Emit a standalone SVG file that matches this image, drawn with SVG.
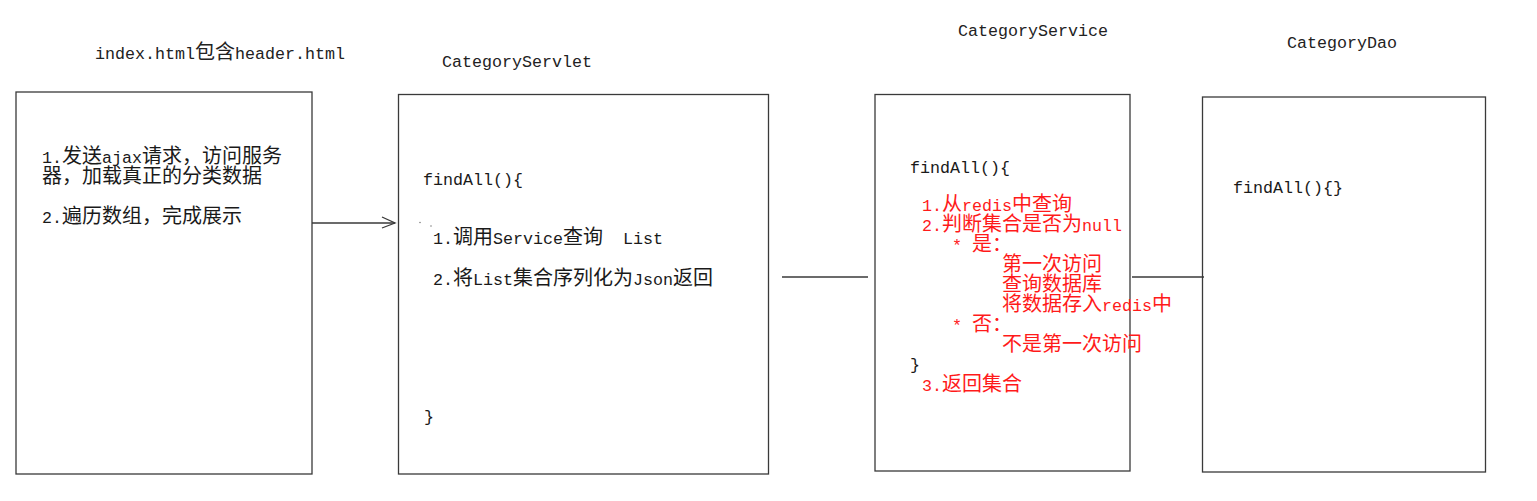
<svg xmlns="http://www.w3.org/2000/svg" width="1537" height="501" viewBox="0 0 1537 501">
<style>
  .box { fill: #ffffff; stroke: #3a3a3a; stroke-width: 1.3; }
  .conn { fill: none; stroke: #3a3a3a; stroke-width: 1.3; }
  text { font-family: "Noto Sans CJK SC", "Liberation Sans", sans-serif; font-size: 20px; fill: #1a1a1a; }
  .m { font-family: "Liberation Mono", "Noto Sans CJK SC", monospace; font-size: 16.67px; }
  .h { font-family: "Liberation Mono", "Noto Sans CJK SC", monospace; font-size: 16.67px; fill: #222222; }
  .red { fill: #ff1a1a; }
</style>
<defs>
  <marker id="open" markerUnits="userSpaceOnUse" markerWidth="16" markerHeight="14" refX="14" refY="7" orient="auto">
    <path d="M1,1 L14,7 L1,12" fill="none" stroke="#3a3a3a" stroke-width="1.3"/>
  </marker>
</defs>
<rect width="1537" height="501" fill="#ffffff"/>

<g id="node-index">
  <text class="h" y="59"><tspan x="95">index.html</tspan><tspan x="195" style="font-family:'Noto Sans CJK SC',sans-serif;font-size:20px">包含</tspan><tspan x="235">header.html</tspan></text>
  <rect class="box" x="16" y="92" width="296" height="382"/>
  <text y="163"><tspan x="42" class="m">1.</tspan><tspan x="62">发送</tspan><tspan x="102" class="m">ajax</tspan><tspan x="142">请求，访问服务</tspan></text>
  <text x="42" y="183">器，加载真正的分类数据</text>
  <text y="223"><tspan x="42" class="m">2.</tspan><tspan x="62">遍历数组，完成展示</tspan></text>
</g>

<g id="node-servlet">
  <text class="h" x="442" y="67">CategoryServlet</text>
  <rect class="box" x="398.5" y="94.5" width="370" height="379.5"/>
  <text class="m" x="423" y="185">findAll(){</text>
  <circle cx="420" cy="222.5" r="0.7" fill="#666"/>
  <circle cx="431" cy="226" r="0.7" fill="#666"/>
  <text y="244"><tspan x="433" class="m">1.</tspan><tspan x="453">调用</tspan><tspan x="493" class="m">Service</tspan><tspan x="563">查询</tspan><tspan x="623" class="m">List</tspan></text>
  <text y="285"><tspan x="433" class="m">2.</tspan><tspan x="453">将</tspan><tspan x="473" class="m">List</tspan><tspan x="513">集合序列化为</tspan><tspan x="633" class="m">Json</tspan><tspan x="673">返回</tspan></text>
  <text class="m" x="424" y="422">}</text>
</g>

<g id="node-service">
  <text class="h" x="958" y="36">CategoryService</text>
  <rect class="box" x="875" y="94.5" width="255" height="376.5"/>
  <text class="m" x="910" y="173">findAll(){</text>
  <text class="red" y="211"><tspan x="922" class="m">1.</tspan><tspan x="942">从</tspan><tspan x="962" class="m">redis</tspan><tspan x="1012">中查询</tspan></text>
  <text class="red" y="231"><tspan x="922" class="m">2.</tspan><tspan x="942">判断集合是否为</tspan><tspan x="1082" class="m">null</tspan></text>
  <text class="red" y="251"><tspan x="952" class="m">*</tspan><tspan x="972">是：</tspan></text>
  <text class="red" x="1002" y="271">第一次访问</text>
  <text class="red" x="1002" y="291">查询数据库</text>
  <text class="red" y="311"><tspan x="1002">将数据存入</tspan><tspan x="1102" class="m">redis</tspan><tspan x="1152">中</tspan></text>
  <text class="red" y="331"><tspan x="952" class="m">*</tspan><tspan x="972">否：</tspan></text>
  <text class="red" x="1002" y="351">不是第一次访问</text>
  <text class="m" x="910" y="370">}</text>
  <text class="red" y="391"><tspan x="922" class="m">3.</tspan><tspan x="942">返回集合</tspan></text>
</g>

<g id="node-dao">
  <text class="h" x="1287" y="48">CategoryDao</text>
  <rect class="box" x="1202.5" y="97" width="283" height="375"/>
  <text class="m" x="1233" y="193">findAll(){}</text>
</g>

<g id="connectors">
  <line class="conn" x1="312" y1="223" x2="395" y2="223" marker-end="url(#open)"/>
  <line class="conn" x1="782" y1="277" x2="868" y2="277"/>
  <line class="conn" x1="1132" y1="277" x2="1204" y2="277"/>
</g>
</svg>
